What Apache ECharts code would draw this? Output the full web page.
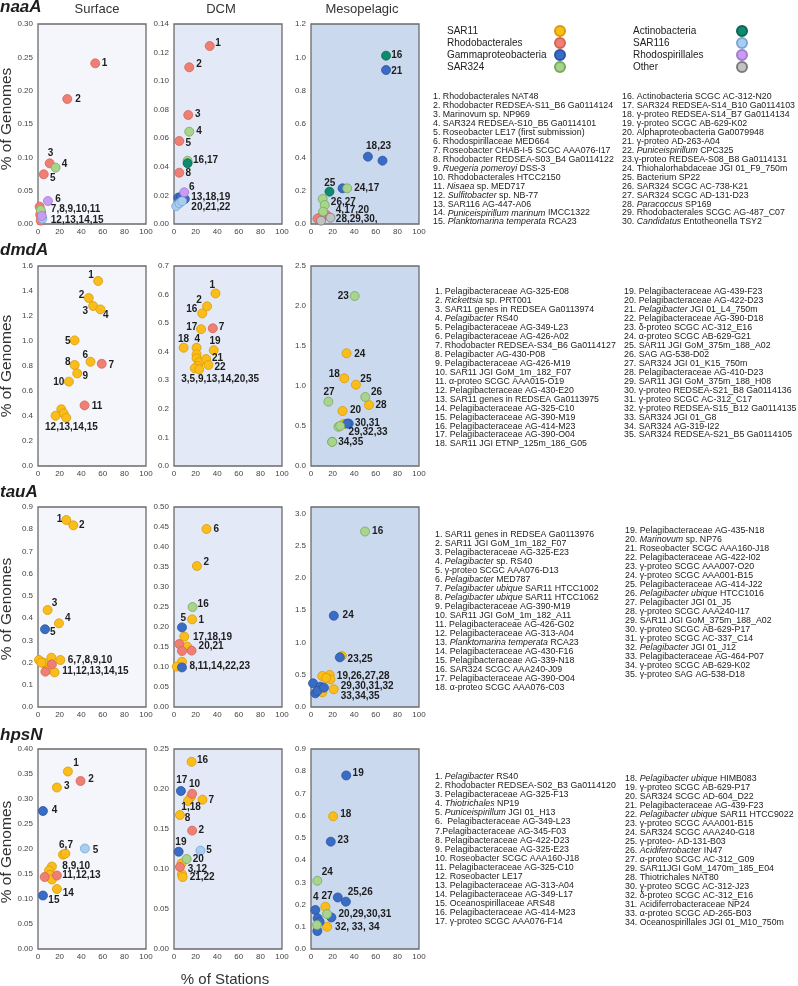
<!DOCTYPE html>
<html><head><meta charset="utf-8">
<script src="https://cdn.jsdelivr.net/npm/echarts@6/dist/echarts.min.js"></script>
<style>html,body{margin:0;padding:0;background:#fff}#c{width:798px;height:986px}</style>
</head><body><div id="c"></div>
<script>
// ---------------- DATA ----------------
const genes = ['naaA', 'dmdA', 'tauA', 'hpsN'];
const depths = ['Surface', 'DCM', 'Mesopelagic'];
const xTicks = [0, 20, 40, 60, 80, 100];
const groupNames = {S11:'SAR11', Rho:'Rhodobacterales', Gam:'Gammaproteobacteria', S324:'SAR324',
  Act:'Actinobacteria', S116:'SAR116', Rsp:'Rhodospirillales', Oth:'Other'};
const legendCol1 = ['SAR11', 'Rhodobacterales', 'Gammaproteobacteria', 'SAR324'];
const legendCol2 = ['Actinobacteria', 'SAR116', 'Rhodospirillales', 'Other'];
// y-axis maxima / intervals / decimals per gene: [Surface, DCM, Mesopelagic]
const yMax_naaA = [0.30, 0.14, 1.2], yInt_naaA = [0.05, 0.02, 0.2], yDec_naaA = [2, 2, 1];
const yMax_dmdA = [1.6, 0.7, 2.5],   yInt_dmdA = [0.2, 0.1, 0.5],   yDec_dmdA = [1, 1, 1];
const yMax_tauA = [0.9, 0.5, 3.1],   yInt_tauA = [0.1, 0.05, 0.5],  yDec_tauA = [1, 2, 1];
const yMax_hpsN = [0.40, 0.25, 0.9], yInt_hpsN = [0.05, 0.05, 0.1], yDec_hpsN = [2, 2, 1];

// points: [% of stations, % of genomes, group, label]
const naaA_Surface = [
 [53.0,0.241,'Rho','1'],[27.1,0.1875,'Rho','2'],[10.8,0.091,'Rho','3'],[16.3,0.0845,'S324','4'],
 [5.3,0.0745,'Rho','5'],[9.2,0.0345,'Rsp','6'],[1.5,0.026,'Rho','7,8,9,10,11'],[2.5,0.021,'S324',''],
 [3.0,0.017,'Rho',''],[2.0,0.014,'Rho',''],[3.5,0.012,'Rsp',''],[3.0,0.010,'Rho',''],
 [3.5,0.009,'S116',''],[4.0,0.008,'S116',''],[2.5,0.005,'Rho','12,13,14,15']];
const naaA_DCM = [
 [33.1,0.1246,'Rho','1'],[14.1,0.1097,'Rho','2'],[13.2,0.0763,'Rho','3'],[14.1,0.0646,'S324','4'],
 [4.9,0.0581,'Rho','5'],[12.6,0.0443,'S324',''],[12.6,0.0425,'Act','16,17'],[4.9,0.0359,'Rho','8'],
 [9.5,0.0222,'Rsp','6'],[4.0,0.0185,'Gam',''],[6.5,0.019,'Gam',''],[10.0,0.0175,'Gam','13,18,19'],
 [2.0,0.0125,'S116','20,21,22'],[5.0,0.0145,'S116',''],[7.5,0.016,'S116','']];
const naaA_Meso = [
 [69.5,1.01,'Act','16'],[69.5,0.924,'Gam','21'],[52.7,0.404,'Gam','18,23'],[66.2,0.38,'Gam',''],
 [17.1,0.194,'Act','25'],[29.2,0.214,'Gam',''],[33.5,0.214,'S324','24,17'],[10.8,0.15,'S324',''],
 [12.7,0.114,'S324','26,27'],[11.2,0.074,'S324','4,17,20'],[14.3,0.054,'Rho',''],[9.5,0.045,'Rho',''],
 [6.0,0.032,'Rho',''],[9.3,0.02,'Oth',''],[18.0,0.038,'Oth','28,29,30,']];

const dmdA_Surface = [
 [55.7,1.48,'S11','1'],[47.0,1.344,'S11','2'],[51.1,1.28,'S11','3'],[57.8,1.253,'S11','4'],
 [33.9,1.005,'S11','5'],[48.6,0.834,'S11','6'],[59.0,0.818,'Rho','7'],[33.9,0.808,'S11','8'],
 [36.3,0.741,'S11','9'],[28.6,0.675,'S11','10'],[43.1,0.485,'Rho','11'],[21.6,0.454,'S11',''],
 [23.7,0.421,'S11',''],[26.2,0.386,'S11',''],[16.3,0.402,'S11','12,13,14,15']];
const dmdA_DCM = [
 [38.4,0.604,'S11','1'],[30.6,0.559,'S11','2'],[26.1,0.534,'S11','16'],[25.1,0.479,'S11','17'],
 [35.9,0.482,'Rho','7'],[8.9,0.414,'S11','18'],[20.9,0.414,'S11','4'],[36.8,0.405,'S11','19'],
 [20.9,0.391,'S11',''],[20.9,0.377,'S11',''],[23.3,0.363,'S11',''],[29.7,0.3745,'S11','21'],
 [31.9,0.3535,'S11','22'],[22.0,0.35,'S11',''],[19.3,0.342,'S11','3,5,9,13,14,20,35'],[23.3,0.338,'S11','']];
const dmdA_Meso = [
 [40.4,2.125,'S324','23'],[32.9,1.409,'S11','24'],[30.8,1.096,'S11','18'],[41.6,1.016,'S11','25'],
 [16.1,0.804,'S324','27'],[50.3,0.8625,'S324','26'],[53.7,0.7625,'S11','28'],[29.2,0.6875,'S11','20'],
 [35.0,0.53,'Gam','30,31'],[33.5,0.53,'Gam',''],[30.1,0.525,'S11','29,32,33'],[25.4,0.49,'S324',''],
 [27.0,0.5,'S324',''],[19.6,0.304,'S324','34,35'],[19.6,0.30,'S324','']];

const tauA_Surface = [
 [26.2,0.8415,'S11','1'],[32.7,0.8175,'S11','2'],[8.9,0.4365,'S11','3'],[19.4,0.3765,'S11','4'],
 [6.5,0.35,'Gam','5'],[0.9,0.2115,'S11',''],[7.7,0.186,'S11',''],[12.4,0.222,'S11',''],
 [5.0,0.20,'S11',''],[20.7,0.2115,'S11','6,7,8,9,10'],[6.8,0.159,'Rho',''],[12.9,0.192,'Rho',''],
 [10.0,0.17,'S11',''],[3.0,0.20,'S11',''],[15.4,0.156,'S11','11,12,13,14,15']];
const tauA_DCM = [
 [30.1,0.445,'S11','6'],[21.2,0.3525,'S11','2'],[17.2,0.25,'S324','16'],[16.8,0.219,'S11','1'],
 [7.4,0.199,'Gam','5'],[9.5,0.176,'S11','17,18,19'],[12.2,0.151,'S11',''],[4.9,0.1575,'Rho',''],
 [16.3,0.141,'Rho','20,21'],[7.4,0.14,'Rho',''],[7.4,0.113,'S11',''],[2.5,0.101,'S11',''],
 [7.4,0.099,'Gam','8,11,14,22,23']];
const tauA_Meso = [
 [50.0,2.72,'S324','16'],[21.1,1.415,'Gam','24'],[26.7,0.77,'Gam',''],[28.5,0.79,'S11','23,25'],
 [10.5,0.48,'S11',''],[17.3,0.496,'S11',''],[18.0,0.429,'S11','19,26,27,28'],[14.0,0.45,'S11',''],
 [1.9,0.367,'Gam',''],[8.7,0.315,'Gam',''],[4.0,0.212,'Gam',''],[21.0,0.274,'S11','29,30,31,32'],
 [10.5,0.228,'S11','33,34,35'],[6.0,0.25,'Gam',''],[12.0,0.30,'Gam','']];

const hpsN_Surface = [
 [27.7,0.355,'S11','1'],[39.4,0.336,'Rho','2'],[17.5,0.323,'S11','3'],[4.6,0.276,'Gam','4'],
 [43.4,0.201,'S116','5'],[23.1,0.1887,'S11','6,7'],[25.3,0.1907,'S11',''],[12.9,0.165,'S11','8,9,10'],
 [10.2,0.157,'S11',''],[6.2,0.144,'Rho',''],[10.8,0.148,'S11',''],[12.9,0.139,'S11',''],
 [17.5,0.147,'Rho','11,12,13'],[17.5,0.12,'S11','14'],[4.6,0.107,'Gam','15']];
const hpsN_DCM = [
 [16.3,0.234,'S11','16'],[6.4,0.1975,'Gam','17'],[16.8,0.194,'Rho','10'],[26.4,0.1867,'S11','7'],
 [15.6,0.19,'S11',''],[12.9,0.185,'S11','1,18'],[5.5,0.1675,'S11','8'],[16.8,0.148,'Rho','2'],
 [4.3,0.1216,'Gam','19'],[24.5,0.123,'S116','5'],[11.7,0.1125,'S324','20'],[7.0,0.107,'S11',''],
 [5.5,0.1025,'Rho','3,12'],[7.4,0.0934,'S11',''],[8.0,0.09,'S11','21,22']];
const hpsN_Meso = [
 [32.6,0.781,'Gam','19'],[20.5,0.597,'S11','18'],[18.3,0.483,'Gam','23'],[5.9,0.307,'S324','24'],
 [24.8,0.232,'Gam',''],[32.3,0.213,'Gam','25,26'],[4.0,0.1755,'Gam','4'],[13.3,0.19,'S11','27'],
 [14.9,0.1575,'S324',''],[18.9,0.142,'Gam','20,29,30,31'],[6.2,0.138,'Gam',''],[8.0,0.123,'Gam',''],
 [14.9,0.10,'S11','32, 33, 34'],[5.6,0.108,'S324',''],[5.9,0.081,'Gam','']];

// genome name lists (text)
const naaA_list1 = ['1. Rhodobacterales NAT48','2. Rhodobacter REDSEA-S11_B6 Ga0114124','3. Marinovum sp. NP969',
 '4. SAR324 REDSEA-S10_B5 Ga0114101','5. Roseobacter LE17 (first submission)','6. Rhodospirillaceae MED664',
 '7. Roseobacter CHAB-I-5 SCGC AAA076-I17','8. Rhodobacter REDSEA-S03_B4 Ga0114122','9. *Ruegeria pomeroyi* DSS-3',
 '10. Rhodobacterales HTCC2150','11. *Nisaea* sp. MED717','12. *Sulfitobacter* sp. NB-77','13. SAR116 AG-447-A06',
 '14. *Puniceispirillum marinum* IMCC1322','15. *Planktomarina temperata* RCA23'];
const naaA_list2 = ['16. Actinobacteria SCGC AC-312-N20','17. SAR324 REDSEA-S14_B10 Ga0114103','18. γ-proteo REDSEA-S14_B7 Ga0114134',
 '19. γ-proteo SCGC AB-629-K02','20. Alphaproteobacteria Ga0079948','21. γ-proteo AD-263-A04','22. *Puniceispirillum* CPC325',
 '23.γ-proteo REDSEA-S08_B8 Ga0114131','24. Thiohalorhabdaceae JGI 01_F9_750m','25. Bacterium SP22','26. SAR324 SCGC AC-738-K21',
 '27. SAR324 SCGC AD-131-D23','28. *Paracoccus* SP169','29. Rhodobacterales SCGC AG-487_C07','30. *Candidatus* Entotheonella TSY2'];
const dmdA_list1 = ['1. Pelagibacteraceae AG-325-E08','2. *Rickettsia* sp. PRT001','3. SAR11 genes in REDSEA Ga0113974',
 '4. *Pelagibacter* RS40','5. Pelagibacteraceae AG-349-L23','6. Pelagibacteraceae AG-426-A02','7. Rhodobacter REDSEA-S34_B6 Ga0114127',
 '8. Pelagibacter AG-430-P08','9. Pelagibacteraceae AG-426-M19','10. SAR11 JGI GoM_1m_182_F07','11. α-proteo SCGC AAA015-O19',
 '12. Pelagibacteraceae AG-430-E20','13. SAR11 genes in REDSEA Ga0113975','14. Pelagibacteraceae AG-325-C10',
 '15. Pelagibacteraceae AG-390-M19','16. Pelagibacteraceae AG-414-M23','17. Pelagibacteraceae AG-390-O04','18. SAR11 JGI ETNP_125m_186_G05'];
const dmdA_list2 = ['19. Pelagibacteraceae AG-439-F23','20. Pelagibacteraceae AG-422-D23','21. *Pelagibacter* JGI 01_L4_750m',
 '22. Pelagibacteraceae AG-390-D18','23. δ-proteo SCGC AC-312_E16','24. α-proteo SCGC AB-629-G21','25. SAR11 JGI GoM_375m_188_A02',
 '26. SAG AG-538-D02','27. SAR324 JGI 01_K15_750m','28. Pelagibacteraceae AG-410-D23','29. SAR11 JGI GoM_375m_188_H08',
 '30. γ-proteo REDSEA-S21_B8 Ga0114136','31. γ-proteo SCGC AC-312_C17','32. γ-proteo REDSEA-S15_B12 Ga0114135',
 '33. SAR324 JGI 01_G8','34. SAR324 AG-319-I22','35. SAR324 REDSEA-S21_B5 Ga0114105'];
const tauA_list1 = ['1. SAR11 genes in REDSEA Ga0113976','2. SAR11 JGI GoM_1m_182_F07','3. Pelagibacteraceae AG-325-E23',
 '4. *Pelagibacter* sp. RS40','5. γ-proteo SCGC AAA076-D13','6. *Pelagibacter* MED787','7. *Pelagibacter ubique* SAR11 HTCC1002',
 '8. *Pelagibacter ubique* SAR11 HTCC1062','9. Pelagibacteraceae AG-390-M19','10. SAR11 JGI GoM_1m_182_A11',
 '11. Pelagibacteraceae AG-426-G02','12. Pelagibacteraceae AG-313-A04','13. *Planktomarina temperata* RCA23',
 '14. Pelagibacteraceae AG-430-F16','15. Pelagibacteraceae AG-339-N18','16. SAR324 SCGC AAA240-J09',
 '17. Pelagibacteraceae AG-390-O04','18. α-proteo SCGC AAA076-C03'];
const tauA_list2 = ['19. Pelagibacteraceae AG-435-N18','20. *Marinovum* sp. NP76','21. Roseobacter SCGC AAA160-J18',
 '22. Pelagibacteraceae AG-422-I02','23. γ-proteo SCGC AAA007-O20','24. γ-proteo SCGC AAA001-B15','25. Pelagibacteraceae AG-414-J22',
 '26. *Pelagibacter ubique* HTCC1016','27. Pelagibacter JGI 01_J5','28. γ-proteo SCGC AAA240-I17','29. SAR11 JGI GoM_375m_188_A02',
 '30. γ-proteo SCGC AB-629-P17','31. γ-proteo SCGC AC-337_C14','32. *Pelagibacter* JGI 01_J12','33. Pelagibacteraceae AG-464-P07',
 '34. γ-proteo SCGC AB-629-K02','35. γ-proteo SAG AG-538-D18'];
const hpsN_list1 = ['1. *Pelagibacter* RS40','2. Rhodobacter REDSEA-S02_B3 Ga0114120','3. Pelagibacteraceae AG-325-F13',
 '4. *Thiotrichales* NP19','5. *Puniceispirillum* JGI 01_H13','6.  Pelagibacteraceae AG-349-L23','7.Pelagibacteraceae AG-345-F03',
 '8. Pelagibacteraceae AG-422-D23','9. Pelagibacteraceae AG-325-E23','10. Roseobacter SCGC AAA160-J18',
 '11. Pelagibacteraceae AG-325-C10','12. Roseobacter LE17','13. Pelagibacteraceae AG-313-A04','14. Pelagibacteraceae AG-349-L17',
 '15. Oceanospirillaceae ARS48','16. Pelagibacteraceae AG-414-M23','17. γ-proteo SCGC AAA076-F14'];
const hpsN_list2 = ['18. *Pelagibacter ubique* HIMB083','19. γ-proteo SCGC AB-629-P17','20. SAR324 SCGC AD-604_D22',
 '21. Pelagibacteraceae AG-439-F23','22. *Pelagibacter ubique* SAR11 HTCC9022','23. γ-proteo SCGC AAA001-B15',
 '24. SAR324 SCGC AAA240-G18','25. γ-proteo- AD-131-B03','26. *Acidiferrobacter* IN47','27. α-proteo SCGC AC-312_G09',
 '29. SAR11JGI GoM_1470m_185_E04','28. Thiotrichales NAT80','30. γ-proteo SCGC AC-312-J23','32. δ-proteo SCGC AC-312_E16',
 '31. Acidiferrobacteraceae NP24','33. α-proteo SCGC AD-265-B03','34. Oceanospirillales JGI 01_M10_750m'];

// ---------------- LAYOUT / STYLE ----------------
const FONT = '"Liberation Sans", Arial, Helvetica, sans-serif';
const groupStyle = {
  S11:['#fbbd1b','#d99b05'], Rho:['#f07f73','#d4645a'], Gam:['#3a6cc3','#2a54a4'], S324:['#a8d48d','#76a95c'],
  Act:['#0e8a6d','#0a6651'], S116:['#a9cdf0','#7aa6d4'], Rsp:['#c99cf2','#a27bd0'], Oth:['#c2c2c2','#7a7a7a']};
const groupOrder = ['S11','Rho','Gam','S324','Act','S116','Rsp','Oth'];
const gridLeft = [38, 174, 311], gridTop = [24, 266, 507, 749], gridW = 108, gridH = 200;
const panelBg = ['#f4f6fc', '#e3e9f6', '#cbd9ef'];
const labelOffsets = {
 naaA_Surface:{'1':[6,0],'2':[7.6,0],'3':[-2.3,-10],'4':[5.7,-3.7],'5':[6,4],'6':[7,-2],'7,8,9,10,11':[10.8,2.3],'12,13,14,15':[9.7,-0.7]},
 naaA_DCM:{'1':[5,-2.7],'2':[6.7,-3.3],'3':[6.4,-0.7],'4':[6.7,-0.7],'5':[5.7,2.3],'16,17':[5,-3.3],'8':[5.7,0.7],'6':[4.4,-4.6],'13,18,19':[6.1,-1.7],'20,21,22':[14.8,1.2]},
 naaA_Meso:{'16':[4.7,0],'21':[4.7,1],'18,23':[-2.3,-10],'25':[-5.7,-8.4],'24,17':[6.6,0],'26,27':[5.7,-2.3],'4,17,20':[12.3,-1.7],'28,29,30,':[5,1.6]},
 dmdA_Surface:{'1':[-10.4,-5.3],'2':[-10.3,-2.7],'3':[-11,5.7],'4':[2.3,5.7],'5':[-10,0.7],'6':[-8.3,-6.7],'7':[6.4,1.3],'8':[-10,-2.7],'9':[5,2.7],'10':[-16,0.6],'11':[6.7,0.7],'12,13,14,15':[-11,11.6]},
 dmdA_DCM:{'1':[-6.4,-8.3],'2':[-11.3,-6],'16':[-16.3,-4.3],'17':[-15.3,-1.7],'7':[5.7,-0.6],'18':[-6,-8.4],'4':[-2.4,-8.4],'19':[-4.7,-8.6],'21':[5.4,-0.7],'22':[5.6,2.7],'3,5,9,13,14,20,35':[-14,10.7]},
 dmdA_Meso:{'23':[-17.3,0.7],'24':[7.3,0.7],'18':[-16,-4],'25':[4,-5.7],'27':[-5.3,-9.4],'26':[5.3,-4.7],'28':[6,0.7],'20':[7,-0.3],'30,31':[5.7,0],'29,32,33':[4.7,8.3],'34,35':[5.6,0.6]},
 tauA_Surface:{'1':[-10,-1],'2':[5.3,0],'3':[3.7,-6.7],'4':[5.7,-5],'5':[4.7,3.4],'6,7,8,9,10':[7,0],'11,12,13,14,15':[7.3,-0.6]},
 tauA_DCM:{'6':[6.6,0],'2':[6.3,-3.3],'16':[4.6,-3],'1':[6,0.7],'5':[-2,-9],'17,18,19':[8.4,1],'20,21':[6.6,-4],'8,11,14,22,23':[7,-1.3]},
 tauA_Meso:{'16':[6.7,-0.7],'24':[8.4,0],'23,25':[5.4,3.3],'19,26,27,28':[6,-3.3],'29,30,31,32':[6.7,-3],'33,34,35':[18,3.7]},
 hpsN_Surface:{'1':[5,-8.3],'2':[7.3,-2],'3':[6.7,-1.6],'4':[8.4,-1],'5':[7.4,1.4],'6,7':[-4.3,-9],'8,9,10':[10,0],'11,12,13':[5,0],'14':[5.4,4],'15':[5,5]},
 hpsN_DCM:{'16':[5,-2],'17':[-5,-10.3],'10':[-3.6,-9.7],'7':[5.6,1],'1,18':[-7,6.3],'8':[4.3,3.3],'2':[6,0],'19':[-3.7,-9.4],'5':[5.3,-0.6],'20':[5.6,0.7],'3,12':[7.3,2.7],'21,22':[6.6,0.3]},
 hpsN_Meso:{'19':[6,-2],'18':[6.6,-2],'23':[6.4,-1],'24':[4,-8.3],'25,26':[1.4,-9.3],'4':[-2.7,-12.6],'27':[-4.3,-11],'20,29,30,31':[6.7,-3.4],'32, 33, 34':[7.6,0.7]}
};

// ---------------- BUILD ----------------
const panelData = {
 naaA:[naaA_Surface, naaA_DCM, naaA_Meso], dmdA:[dmdA_Surface, dmdA_DCM, dmdA_Meso],
 tauA:[tauA_Surface, tauA_DCM, tauA_Meso], hpsN:[hpsN_Surface, hpsN_DCM, hpsN_Meso]};
const yCfg = {
 naaA:[yMax_naaA, yInt_naaA, yDec_naaA], dmdA:[yMax_dmdA, yInt_dmdA, yDec_dmdA],
 tauA:[yMax_tauA, yInt_tauA, yDec_tauA], hpsN:[yMax_hpsN, yInt_hpsN, yDec_hpsN]};
const panelKeys = ['Surface', 'DCM', 'Meso'];
const R = 4.5;

const grids = [], xAxes = [], yAxes = [], series = [];
genes.forEach((g, r) => {
  panelKeys.forEach((pk, c) => {
    const idx = r * 3 + c;
    grids.push({left: gridLeft[c], top: gridTop[r], width: gridW, height: gridH, show: true,
      backgroundColor: panelBg[c], borderColor: '#6b6b6b', borderWidth: 1.3,
      containLabel: false, outerBoundsMode: 'none'});
    xAxes.push({gridIndex: idx, type: 'value', min: xTicks[0], max: xTicks[xTicks.length - 1],
      interval: xTicks[1] - xTicks[0],
      axisLine: {show: false}, axisTick: {show: false}, splitLine: {show: false},
      axisLabel: {fontSize: 8, color: '#444', margin: 4, fontFamily: FONT}});
    const [mx, iv, dec] = yCfg[g];
    yAxes.push({gridIndex: idx, type: 'value', min: 0, max: mx[c], interval: iv[c],
      axisLine: {show: false}, axisTick: {show: false}, splitLine: {show: false},
      axisLabel: {fontSize: 8, color: '#444', margin: 5, fontFamily: FONT,
        formatter: v => { const k = v / iv[c]; return Math.abs(k - Math.round(k)) > 1e-6 ? '' : v.toFixed(dec[c]); }}});
    const pts = panelData[g][c];
    const offs = labelOffsets[g + '_' + pk];
    groupOrder.forEach(code => {
      const sub = pts.filter(p => p[2] === code);
      if (!sub.length) return;
      series.push({
        type: 'scatter', name: groupNames[code], xAxisIndex: idx, yAxisIndex: idx,
        symbol: 'circle', symbolSize: 9,
        itemStyle: {color: groupStyle[code][0], borderColor: groupStyle[code][1], borderWidth: 0.8, opacity: 1},
        emphasis: {disabled: true},
        label: {show: false, position: 'right', distance: 0, fontSize: 10, fontWeight: 'bold',
          color: '#1d1d1d', fontFamily: FONT},
        data: sub.map(p => {
          const d = {value: [p[0], p[1]]};
          if (p[3]) {
            const o = offs[p[3]] || [6, 0];
            d.label = {show: true, formatter: p[3], offset: [o[0] - R, o[1]]};
          }
          return d;
        })
      });
    });
  });
});

const toRich = s => s.replace(/\*([^*]+)\*/g, '{i|$1}');
function listText(lines, x, top, lh) {
  return {type: 'text', x: x, y: top, silent: true,
    style: {text: lines.map(toRich).join('\n'), fill: '#222', fontSize: 8.8, fontFamily: FONT,
      lineHeight: lh, verticalAlign: 'top', align: 'left',
      rich: {i: {fontStyle: 'italic', fontSize: 8.8, fontFamily: FONT, lineHeight: lh, fill: '#222'}}}};
}
const graphics = [
  listText(naaA_list1, 433, 92.5, 8.93), listText(naaA_list2, 622, 92.5, 8.93),
  listText(dmdA_list1, 435, 287.2, 8.96), listText(dmdA_list2, 624, 287.2, 8.96),
  listText(tauA_list1, 435, 530.5, 8.98), listText(tauA_list2, 625, 526.5, 8.98),
  listText(hpsN_list1, 435, 772.2, 9.06), listText(hpsN_list2, 625, 774.5, 9.0)
];
const geneY = [7, 250, 492, 735];
genes.forEach((g, r) => graphics.push({type: 'text', x: 0, y: geneY[r], silent: true,
  style: {text: g, fontSize: 17, fontWeight: 'bold', fontStyle: 'italic', fontFamily: FONT, fill: '#1d1d1d',
    verticalAlign: 'middle', align: 'left'}}));
const yTitleY = [119, 366, 609, 852];
yTitleY.forEach(yc => graphics.push({type: 'text', x: 7, y: yc, rotation: Math.PI / 2, silent: true,
  style: {text: '% of Genomes', fontSize: 15.5, fontFamily: FONT, fill: '#333', align: 'center', verticalAlign: 'middle'}}));
const depthX = [97, 221, 362];
depths.forEach((d, c) => graphics.push({type: 'text', x: depthX[c], y: 9, silent: true,
  style: {text: d, fontSize: 13, fontFamily: FONT, fill: '#333', verticalAlign: 'middle', align: 'center'}}));
graphics.push({type: 'text', x: 225, y: 980, silent: true,
  style: {text: '% of Stations', fontSize: 15, fontFamily: FONT, fill: '#333', verticalAlign: 'middle', align: 'center'}});

function legendCfg(names, left, w) {
  return {orient: 'vertical', left: left, top: 25, data: names, icon: 'circle', itemWidth: 10, itemHeight: 10,
    itemGap: 0, align: 'right', selectedMode: false, padding: 0,
    formatter: '{n|{name}}',
    textStyle: {fontSize: 10, color: '#222', fontFamily: FONT, lineHeight: 10,
      rich: {n: {width: w, align: 'left', fontSize: 10, fontFamily: FONT, color: '#222', lineHeight: 10}}}};
}

const chart = echarts.init(document.getElementById('c'), null, {renderer: 'canvas'});
chart.setOption({
  animation: false,
  backgroundColor: '#ffffff',
  grid: grids, xAxis: xAxes, yAxis: yAxes, series: series,
  legend: [legendCfg(legendCol1, 447, 103), legendCfg(legendCol2, 633, 99)],
  graphic: graphics
});
</script>
</body></html>
